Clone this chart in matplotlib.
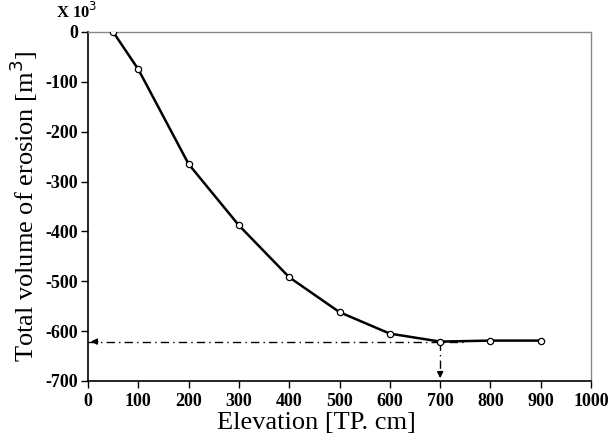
import matplotlib
matplotlib.use("Agg")
import matplotlib.pyplot as plt

elevation = [50, 100, 200, 300, 400, 500, 600, 700, 800, 900]
volume = [0, -75, -265, -388, -492, -562, -605, -621, -619, -619]
min_x = 700
min_y = -621
xticks = [0, 100, 200, 300, 400, 500, 600, 700, 800, 900, 1000]
yticks = [0, -100, -200, -300, -400, -500, -600, -700]

plt.rcParams['font.family'] = ['Liberation Serif', 'DejaVu Serif']

fig = plt.figure(figsize=(6.1, 4.43), dpi=100)
ax = fig.add_axes([0.1443, 0.14, 0.8247, 0.7878])

ax.plot(elevation, volume, color='black', lw=1.8, marker='o', ms=4.5,
        mfc='white', mec='black', mew=0.9, zorder=3)

# dash-dot guide lines with arrows
ax.plot([0, 750], [min_y, min_y], color='black', lw=1.0, ls=(0, (6, 3, 1, 3)), zorder=2)
ax.annotate('', xy=(0, min_y), xytext=(25, min_y),
            arrowprops=dict(arrowstyle='-|>', color='black', lw=1.0, mutation_scale=9))
ax.plot([min_x, min_x], [min_y, -680], color='black', lw=1.0, ls=(0, (6, 3, 1, 3)), zorder=2)
ax.annotate('', xy=(min_x, -700), xytext=(min_x, -675),
            arrowprops=dict(arrowstyle='-|>', color='black', lw=1.0, mutation_scale=9))

ax.set_xlim(0, 1000)
ax.set_ylim(-700, 0)
ax.set_xticks(xticks)
ax.set_yticks(yticks)
ax.set_xticklabels([str(t) for t in xticks], fontweight='bold', fontsize=13)
ax.set_yticklabels([str(t) for t in yticks], fontweight='bold', fontsize=13)
ax.tick_params(axis='x', direction='out', length=5, width=1, pad=4)
ax.tick_params(axis='y', direction='out', length=5, width=1, pad=2)

for s in ['top', 'right']:
    ax.spines[s].set_color('#888888')
    ax.spines[s].set_linewidth(1.0)
for s in ['left', 'bottom']:
    ax.spines[s].set_color('black')
    ax.spines[s].set_linewidth(1.2)

ax.set_xlabel('Elevation [TP. cm]', fontsize=19)
ax.xaxis.set_label_coords(0.455, -0.09)
ax.set_ylabel('Total volume of erosion [m$^3$]', fontsize=19, labelpad=4)
ax.text(0.018, 1.03, r'X 10$^3$', transform=ax.transAxes, ha='right', va='bottom',
        fontsize=12, fontweight='bold')

fig.savefig('out.png', dpi=100)
